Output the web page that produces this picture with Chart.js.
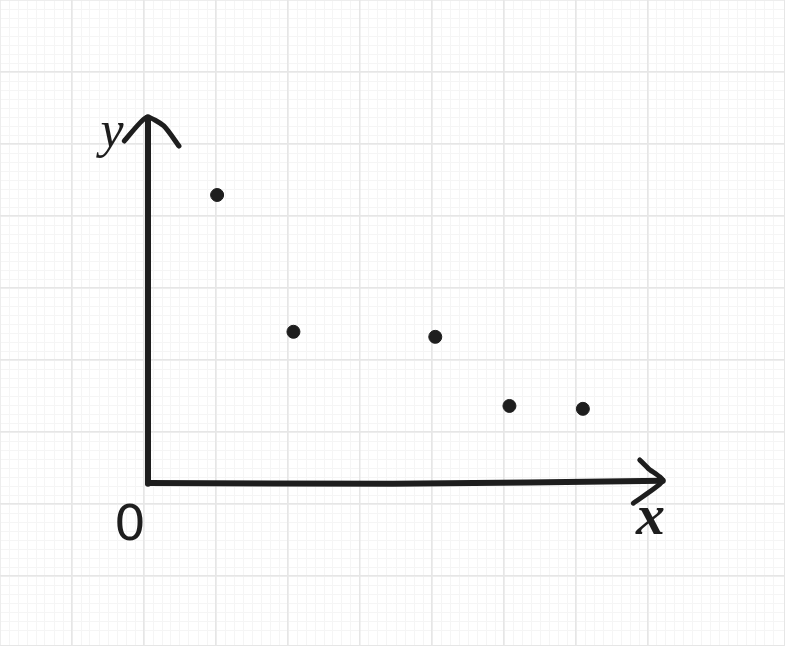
<!DOCTYPE html>
<html>
<head>
<meta charset="utf-8">
<script src="https://cdn.jsdelivr.net/npm/chart.js@4/dist/chart.umd.min.js"></script>
<style>
  body { margin: 0; background: #fff; }
  canvas { display: block; }
</style>
</head>
<body>
<canvas id="myChart" width="785" height="646"></canvas>
<script>
// points, in grid squares from the drawn origin
const pointX = [0.96, 2.02, 3.99, 5.02, 6.04]
const pointY = [4.0, 2.1, 2.03, 1.07, 1.03]

// hand drawn axes and arrow heads
const yAxisLine = [{x: 0, y: -0.01}, {x: 0, y: 5.08}]
const xAxisLine = [{x: 0, y: 0}, {x: 3.4, y: -0.01}, {x: 7.15, y: 0.03}]
const yArrow = [{x: -0.33, y: 4.75}, {x: -0.02, y: 5.08}, {x: 0.22, y: 4.96}, {x: 0.43, y: 4.68}]
const xArrow = [{x: 6.83, y: 0.32}, {x: 6.95, y: 0.2}, {x: 7.15, y: 0.03}, {x: 6.74, y: -0.28}]

// labels written next to the axes
const axisLabels = [
  {text: "y", x: -0.5, y: 4.86},
  {text: "x", x: 6.98, y: -0.5},
  {text: "0", x: -0.25, y: -0.61}
]

const W = 785, H = 646, cell = 72
const originPx = {x: 148, y: 483}

const points = pointX.map((v, i) => ({x: v, y: pointY[i]}))

const ink = "#1e1e1e"

function strokeSet(data, width, tension){
  return {
    data: data,
    showLine: true,
    borderColor: ink,
    borderWidth: width,
    borderCapStyle: "round",
    borderJoinStyle: "round",
    pointRadius: 0,
    tension: tension,
    xAxisID: "x",
    yAxisID: "y"
  }
}

const labelPlugin = {
  id: "labels",
  afterDatasetsDraw(chart){
    const ctx = chart.ctx
    ctx.save()
    ctx.fillStyle = ink
    ctx.strokeStyle = ink
    ctx.textAlign = "center"
    ctx.textBaseline = "middle"
    axisLabels.forEach(l => {
      let px = chart.scales.x.getPixelForValue(l.x)
      let py = chart.scales.y.getPixelForValue(l.y)
      if(l.text == "0"){
        ctx.font = "50px 'DejaVu Sans'"
        ctx.fillText(l.text, px, py)
      }else if(l.text == "x"){
        ctx.font = "italic bold 58px 'Liberation Serif'"
        ctx.fillText(l.text, px, py)
      }else{
        ctx.font = "italic 52px 'Liberation Serif'"
        ctx.fillText(l.text, px, py)
      }
    })
    ctx.restore()
  }
}

const gridScale = (axis, max, step, major) => ({
  type: "linear",
  position: axis == "x" ? "bottom" : "left",
  min: 0,
  max: max,
  reverse: axis == "y",
  border: {display: false},
  ticks: {display: false, stepSize: step},
  grid: {
    drawTicks: false,
    color: major ? "#e6e6e6" : "#f5f5f5",
    lineWidth: major ? 1.5 : 1
  }
})

new Chart("myChart", {
  type: "scatter",
  data: {
    datasets: [
      strokeSet(yAxisLine, 6, 0),
      strokeSet(xAxisLine, 6, 0.3),
      strokeSet(yArrow, 5, 0.2),
      strokeSet(xArrow, 5, 0.2),
      {
        data: points,
        backgroundColor: ink,
        borderColor: ink,
        pointRadius: 6.5,
        pointHoverRadius: 6.5,
        xAxisID: "x",
        yAxisID: "y"
      }
    ]
  },
  options: {
    responsive: false,
    animation: false,
    layout: {padding: 0, autoPadding: false},
    plugins: {legend: {display: false}, tooltip: {enabled: false}},
    scales: {
      gxMinor: gridScale("x", W / cell, 0.125, false),
      gyMinor: gridScale("y", H / cell, 0.125, false),
      gx: gridScale("x", W / cell, 1, true),
      gy: gridScale("y", H / cell, 1, true),
      x: {
        type: "linear",
        display: false,
        min: -originPx.x / cell,
        max: (W - originPx.x) / cell
      },
      y: {
        type: "linear",
        display: false,
        min: -(H - originPx.y) / cell,
        max: originPx.y / cell
      }
    }
  },
  plugins: [labelPlugin]
})
</script>
</body>
</html>
